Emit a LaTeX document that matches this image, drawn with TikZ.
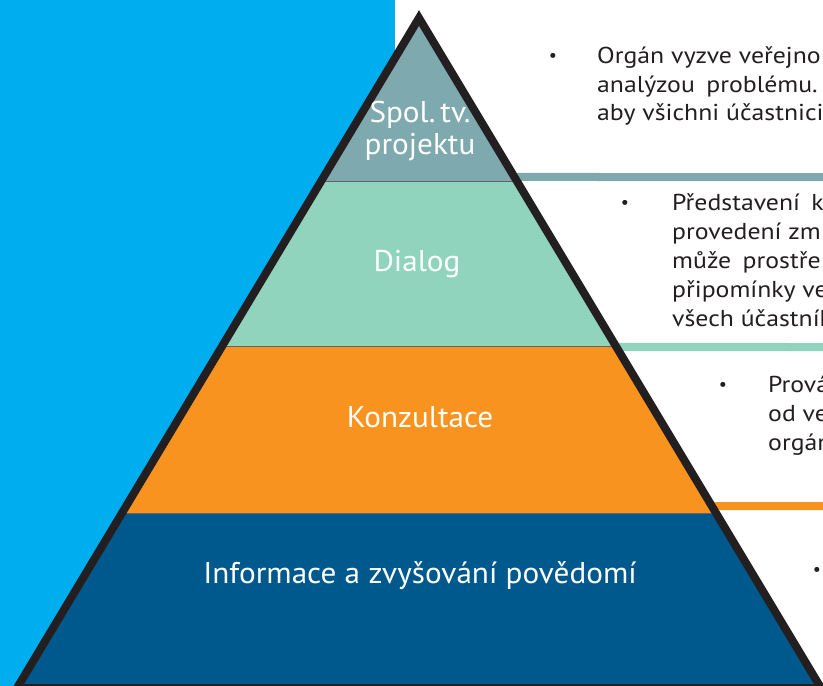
\documentclass[tikz,border=0pt]{standalone}
\usepackage{fontspec}
\setmainfont{PT Sans}
\newfontfamily\labelfont[FakeStretch=1.04]{PT Sans}
\newfontfamily\notefont[FakeStretch=1.12]{PT Sans}
\usetikzlibrary{calc}
\definecolor{skyblue}{HTML}{00AEEF}
\definecolor{tealband}{HTML}{7DA9AF}
\definecolor{mintband}{HTML}{90D4BE}
\definecolor{orangeband}{HTML}{F7931E}
\definecolor{navyband}{HTML}{00598C}
\definecolor{inkdark}{HTML}{231F20}

\begin{document}
\begin{tikzpicture}[x=1pt, y=-1pt,
    layerLabel/.style={text=white, font=\labelfont\fontsize{30}{32}\selectfont, align=center, inner sep=0pt},
    noteLine/.style={text=inkdark, font=\notefont\fontsize{23}{27}\selectfont, anchor=base west, inner sep=0pt},
    noteBullet/.style={text=inkdark, font=\fontsize{18}{18}\selectfont, inner sep=0pt},
    stripeStyle/.style={line width=8pt}
]
    \useasboundingbox (0,0) rectangle (823,686);
    \clip (0,0) rectangle (823,686);
    \fill[white] (0,0) rectangle (823,686);
    \fill[skyblue] (0,0) rectangle (395,686);

    \coordinate (apex) at (419,18);
    \coordinate (baseL) at (17,688);
    \coordinate (baseR) at (821,688);

    % layers of the pyramid
    \begin{scope}
        \clip (apex) -- (baseL) -- (baseR) -- cycle;
        \fill[tealband] (0,0) rectangle (823,181);
        \fill[mintband] (0,181) rectangle (823,346);
        \fill[orangeband] (0,346) rectangle (823,513);
        \fill[navyband] (0,513) rectangle (823,690);
        \draw[inkdark!70, line width=1pt] (0,181) -- (823,181) (0,346) -- (823,346) (0,513) -- (823,513);
    \end{scope}

    % stripes to the right
    \draw[stripeStyle, tealband] ($(apex)!0.2373!(baseR)$) -- (823,177);
    \draw[stripeStyle, mintband] ($(apex)!0.491!(baseR)$) -- (823,347);
    \draw[stripeStyle, orangeband] ($(apex)!0.7284!(baseR)$) -- (823,506);

    \draw[inkdark, line width=8pt, line join=miter] (apex) -- (baseL) -- (baseR) -- cycle;

    \node[layerLabel] (spolLabel) at (420,131) {Spol.\,tv.\\projektu};
    \node[layerLabel, anchor=base] (dialogLabel) at (417,271) {Dialog};
    \node[layerLabel, anchor=base] (konzLabel) at (420,427) {Konzultace};
    \node[layerLabel, anchor=base] (infoLabel) at (420,583) {Informace a zvyšování povědomí};

    % notes beside the pyramid
    \node[noteBullet] (bulletSpol) at (553,57) {•};
    \node[noteLine] (spolA) at (597,63) {Orgán vyzve veřejno};
    \node[noteLine] (spolB) at (597,92) {analýzou\enspace problému.};
    \node[noteLine] (spolC) at (597,120) {aby všichni účastnici};

    \node[noteBullet] (bulletDialog) at (625,204) {•};
    \node[noteLine] (dialogA) at (672,210) {Představení\enspace k};
    \node[noteLine] (dialogB) at (672,239) {provedení zm};
    \node[noteLine] (dialogC) at (672,268) {může\enspace prostře};
    \node[noteLine] (dialogD) at (672,297) {připomínky ve};
    \node[noteLine] (dialogE) at (672,326) {všech účastník};

    \node[noteBullet] (bulletKonz) at (723,386) {•};
    \node[noteLine] (konzA) at (768,392) {Prová};
    \node[noteLine] (konzB) at (768,421) {od ve};
    \node[noteLine] (konzC) at (768,450) {orgán};

    \node[noteBullet] (bulletInfo) at (817,571) {•};
\end{tikzpicture}
\end{document}
